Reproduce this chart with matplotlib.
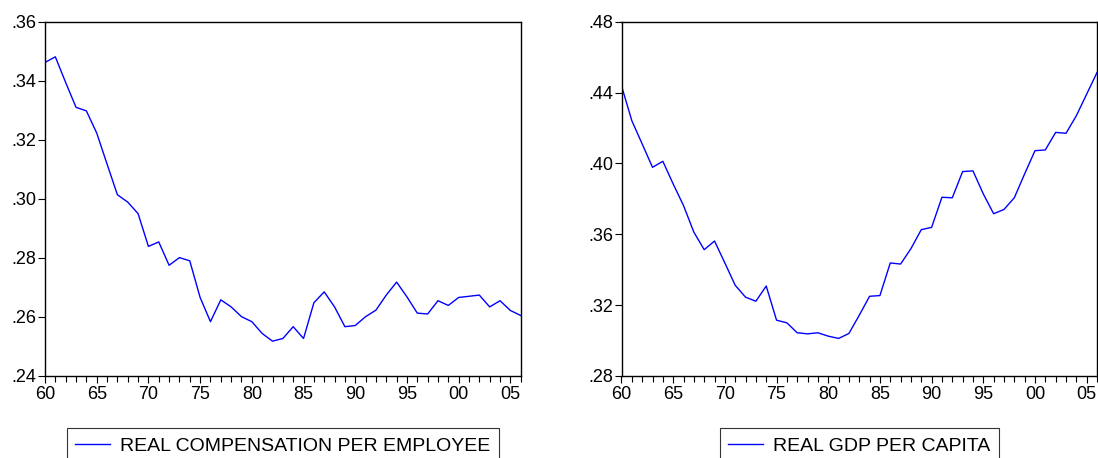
import numpy as np
import matplotlib
matplotlib.use("Agg")
import matplotlib.pyplot as plt
from matplotlib.ticker import FuncFormatter, MultipleLocator

plt.rcParams['font.family'] = ['Liberation Sans', 'DejaVu Sans']

years = np.arange(1960, 2007)

# real compensation per employee
comp = [0.3462, 0.3481, 0.3394, 0.3310, 0.3298, 0.3223, 0.3118, 0.3014, 0.2989, 0.2950,
        0.2839, 0.2854, 0.2775, 0.2801, 0.2790, 0.2666, 0.2584, 0.2658, 0.2634, 0.2601,
        0.2584, 0.2544, 0.2518, 0.2527, 0.2567, 0.2527, 0.2648, 0.2685, 0.2634, 0.2567,
        0.2571, 0.2601, 0.2623, 0.2674, 0.2718, 0.2668, 0.2613, 0.2610, 0.2655, 0.2639,
        0.2666, 0.2670, 0.2674, 0.2634, 0.2655, 0.2622, 0.2605]

# real gdp per capita
gdp = [0.4438, 0.4241, 0.4110, 0.3978, 0.4012, 0.3884, 0.3762, 0.3612, 0.3513, 0.3562,
       0.3438, 0.3312, 0.3245, 0.3222, 0.3308, 0.3115, 0.3100, 0.3044, 0.3038, 0.3044,
       0.3025, 0.3012, 0.3040, 0.3143, 0.3250, 0.3254, 0.3438, 0.3432, 0.3519, 0.3626,
       0.3639, 0.3809, 0.3806, 0.3954, 0.3958, 0.3828, 0.3716, 0.3740, 0.3806, 0.3941,
       0.4072, 0.4076, 0.4175, 0.4170, 0.4269, 0.4391, 0.4513]

panels = [
    (comp, "REAL COMPENSATION PER EMPLOYEE", (0.24, 0.36), 0.02),
    (gdp, "REAL GDP PER CAPITA", (0.28, 0.48), 0.04),
]

fig = plt.figure(figsize=(10.98, 4.58), dpi=100)
rects = [[45 / 1098, 1 - 376 / 458, 475.7 / 1098, 354.3 / 458],
         [621.5 / 1098, 1 - 376 / 458, 475.5 / 1098, 354.3 / 458]]

for rect, (vals, name, ylim, ystep) in zip(rects, panels):
    ax = fig.add_axes(rect)
    ax.plot(years, vals, color='#0000ff', lw=1.0, label=name)
    ax.set_xlim(1960, 2006)
    ax.set_ylim(*ylim)
    ax.yaxis.set_major_locator(MultipleLocator(ystep))
    ax.xaxis.set_major_locator(MultipleLocator(5))
    ax.xaxis.set_minor_locator(MultipleLocator(1))
    ax.yaxis.set_major_formatter(FuncFormatter(lambda v, p: f"{v:.2f}".lstrip('0')))
    ax.xaxis.set_major_formatter(FuncFormatter(lambda v, p: f"{int(round(v)) % 100:02d}"))
    ax.tick_params(axis='both', which='both', direction='out', labelsize=13,
                   top=False, right=False, color='black', width=0.8)
    ax.tick_params(axis='x', which='major', length=5, pad=2)
    ax.tick_params(axis='x', which='minor', length=4)
    ax.tick_params(axis='y', which='major', length=5, pad=1)
    for s in ax.spines.values():
        s.set_linewidth(1.0)
        s.set_color('black')
    leg = ax.legend(loc='upper center', bbox_to_anchor=(0.5, -0.148), borderaxespad=0,
                    fontsize=14, frameon=True, fancybox=False, handlelength=1.8,
                    handletextpad=0.5, borderpad=0.45)
    leg.get_frame().set_edgecolor('black')
    leg.get_frame().set_linewidth(0.8)

fig.savefig("out.png", dpi=100)
